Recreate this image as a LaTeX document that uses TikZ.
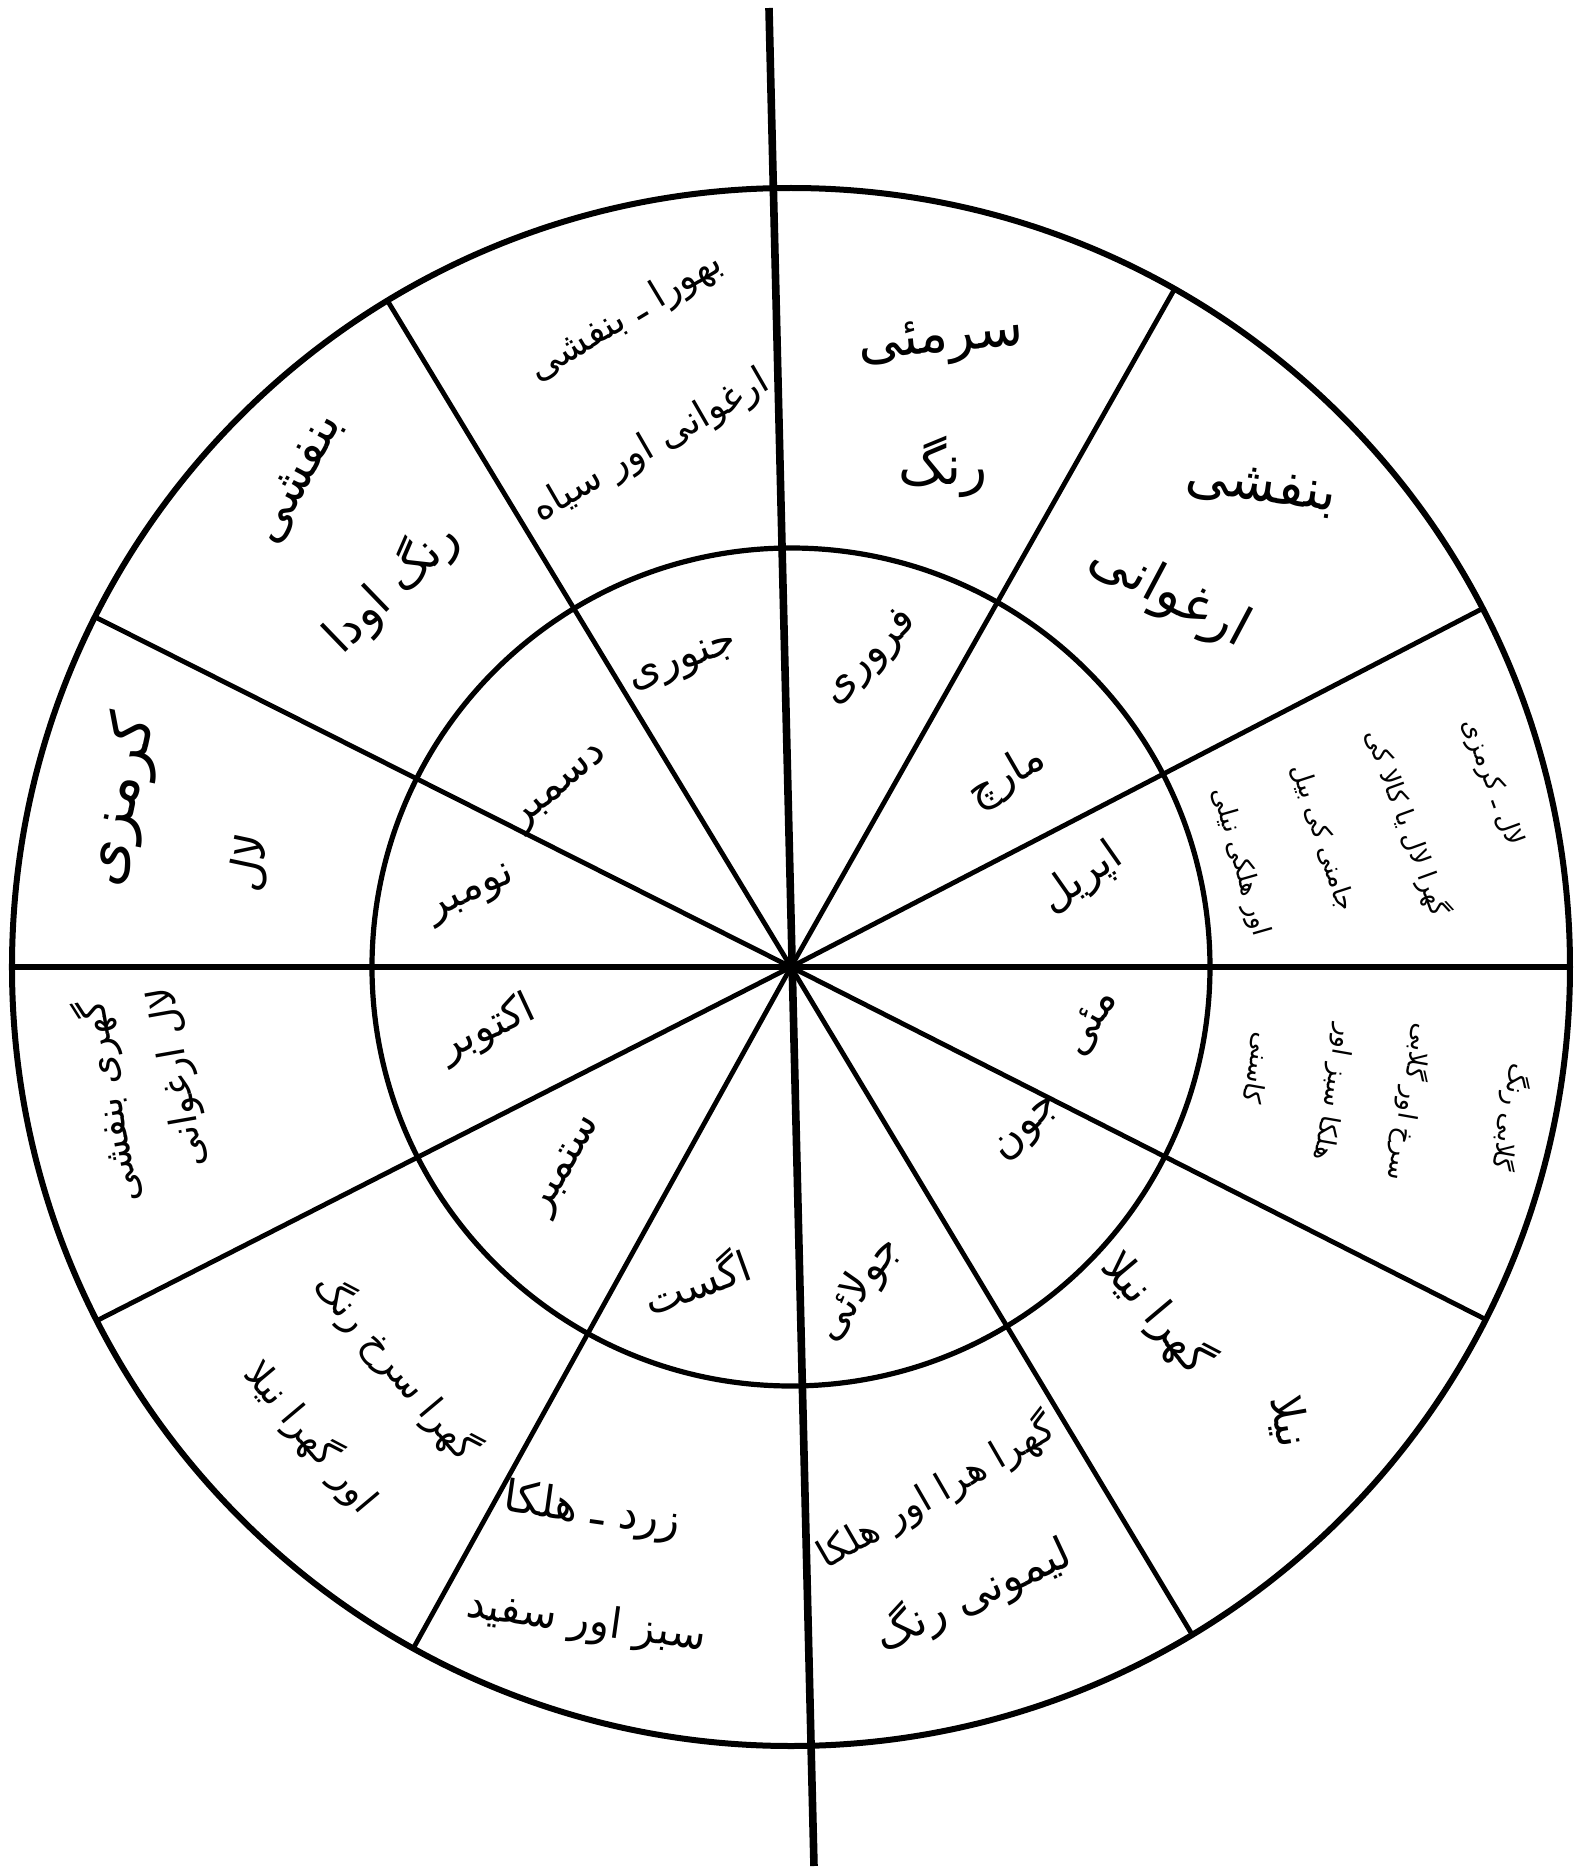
\documentclass[tikz,border=0pt]{standalone}
\usepackage{fontspec}
\newfontfamily\urfont[Script=Arabic]{DejaVu Sans}
\TeXXeTstate=1
\newcommand{\ur}[1]{\beginR #1\endR}
\begin{document}
\begin{tikzpicture}[x=0.5pt,y=0.5pt,
  lbl/.style={font=\urfont\fontsize{22}{26}\selectfont, inner sep=0pt},
  big/.style={font=\urfont\fontsize{27}{30}\selectfont, inner sep=0pt},
  mid/.style={font=\urfont\fontsize{19}{22}\selectfont, inner sep=0pt},
  mon/.style={font=\urfont\fontsize{21}{25}\selectfont, inner sep=0pt},
  sml/.style={font=\urfont\fontsize{13}{16}\selectfont, inner sep=0pt},
  ring/.style={line width=3pt},
  spoke/.style={line width=2.4pt}]
\useasboundingbox (-791,-909) rectangle (783,967);
\fill[white] (-791,-909) rectangle (783,967);
\coordinate (c) at (0,0);
\draw[ring] (c) circle (779);
\draw[line width=2.6pt] (c) circle (419);
\coordinate (vt) at (-22,959);
\coordinate (vb) at (23,-899);
\draw[line width=3.8pt] (vt) -- (vb);
\coordinate (hl) at (-779,0);
\coordinate (hr) at (779,0);
\draw[line width=3.4pt] (hl) -- (hr);
\foreach \a in {60.5,27.4,-26.9,-59,-119,-153,153.3,121.2} \draw[spoke] (c) -- (\a:779);
% outer ring
\node[big, rotate=5] (feb1) at (150,625) {\ur{سرمئی}};
\node[big] (feb2) at (152,500) {\ur{رنگ}};
\node[big, rotate=-8] (mar1) at (470,478) {\ur{بنفشی}};
\node[big, rotate=-28] (mar2) at (378,372) {\ur{ارغوانی}};
\node[sml, rotate=-70] (apr1) at (701,184) {\ur{لال ـ کرمزی}};
\node[sml, rotate=-70] (apr2) at (616,144) {\ur{گهرا لال یا کالا کی}};
\node[sml, rotate=-72] (apr3) at (532,129) {\ur{جامنی کی بیل}};
\node[sml, rotate=-74] (apr4) at (449,105) {\ur{اور هلکی نیلی}};
\node[sml, rotate=-100] (may1) at (719,-150) {\ur{گلابی رنگ}};
\node[sml, rotate=-100] (may2) at (619,-135) {\ur{سرخ اور گلابی}};
\node[sml, rotate=-100] (may3) at (542,-125) {\ur{هلکا سبز اور}};
\node[sml, rotate=-100] (may4) at (466,-101) {\ur{کاسنی}};
\node[lbl, rotate=-50] (jun1) at (366,-346) {\ur{گهرا نیلا}};
\node[lbl, rotate=-80] (jun2) at (497,-455) {\ur{نیلا}};
\node[mid, rotate=30] (jul1) at (145,-525) {\ur{گهرا هرا اور هلکا}};
\node[lbl, rotate=25] (jul2) at (182,-628) {\ur{لیمونی رنگ}};
\node[lbl, rotate=-8] (aug1) at (-199,-545) {\ur{زرد ـ هلکا}};
\node[lbl, rotate=-8, font=\urfont\fontsize{21}{25}\selectfont] (aug2) at (-205,-656) {\ur{سبز اور سفید}};
\node[mid, rotate=-50] (sep1) at (-395,-400) {\ur{گهرا سرخ رنگ}};
\node[mid, rotate=-50] (sep2) at (-480,-470) {\ur{اور گهرا نیلا}};
\node[mid, rotate=100] (oct1) at (-682,-135) {\ur{گهری بنفشی}};
\node[mid, rotate=100] (oct2) at (-612,-110) {\ur{لال ارغوانی}};
\node[lbl, rotate=78, font=\urfont\fontsize{30}{34}\selectfont] (nov1) at (-670,167) {\ur{کرمزی}};
\node[lbl, rotate=78] (nov2) at (-541,104) {\ur{لال}};
\node[lbl, rotate=62, font=\urfont\fontsize{25}{29}\selectfont] (dec1) at (-492,488) {\ur{بنفشی}};
\node[lbl, rotate=44, font=\urfont\fontsize{24}{28}\selectfont] (dec2) at (-400,380) {\ur{رنگ اودا}};
\node[mid, rotate=31] (jan1) at (-165,650) {\ur{بھورا ـ بنفشی}};
\node[mid, rotate=30] (jan2) at (-140,520) {\ur{ارغوانی اور سیاه}};
% inner ring: months
\node[mon, rotate=45] (mfeb) at (80,309) {\ur{فروری}};
\node[mon, rotate=20] (mjan) at (-107,303) {\ur{جنوری}};
\node[mon, rotate=30] (mmar) at (216,190) {\ur{مارچ}};
\node[mon, rotate=35] (mapr) at (291,88) {\ur{اپریل}};
\node[mon, rotate=60] (mmay) at (300,-56) {\ur{مئی}};
\node[mon, rotate=45] (mjun) at (238,-163) {\ur{جون}};
\node[mon, rotate=55] (mjul) at (68,-322) {\ur{جولائی}};
\node[mon, rotate=20] (maug) at (-95,-313) {\ur{اگست}};
\node[mon, rotate=60] (msep) at (-223,-199) {\ur{ستمبر}};
\node[mon, rotate=25] (moct) at (-303,-62) {\ur{اکتوبر}};
\node[mon, rotate=25] (mnov) at (-319,72) {\ur{نومبر}};
\node[mon, rotate=40] (mdec) at (-229,178) {\ur{دسمبر}};
\end{tikzpicture}
\end{document}
